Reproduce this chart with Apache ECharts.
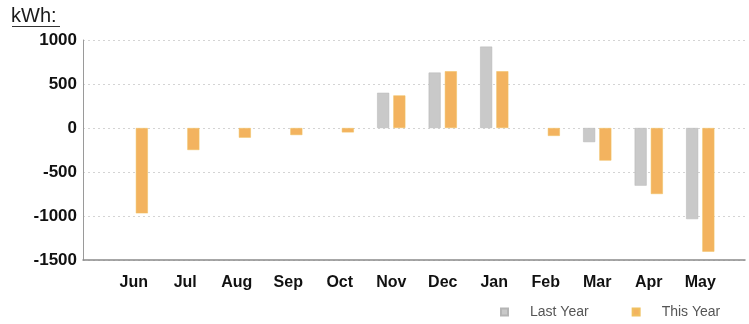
<!DOCTYPE html>
<html>
<head>
<meta charset="utf-8">
<script src="https://cdn.jsdelivr.net/npm/echarts@6/dist/echarts.min.js"></script>
<style>
  html, body { margin: 0; padding: 0; background: #ffffff; }
  #chart { width: 749px; height: 324px; }
</style>
</head>
<body>
<div id="chart"></div>
<script>
// Monthly energy difference, kWh
const months = ['Jun', 'Jul', 'Aug', 'Sep', 'Oct', 'Nov', 'Dec', 'Jan', 'Feb', 'Mar', 'Apr', 'May'];
const lastYear = [null, null, null, null, null, 400, 630, 925, null, -160, -655, -1035];
const thisYear = [-970, -250, -110, -80, -50, 370, 645, 645, -90, -370, -750, -1405];
const yTicks = { min: -1500, max: 1000, interval: 500 };

const chart = echarts.init(document.getElementById('chart'), null, { renderer: 'canvas' });

const fontFamily = 'Liberation Sans, Arial, sans-serif';

chart.setOption({
  animation: false,
  backgroundColor: '#ffffff',
  title: {
    text: 'kWh:',
    left: 11,
    top: 6,
    padding: 0,
    textStyle: { fontFamily: fontFamily, fontSize: 20, fontWeight: 'normal', color: '#1a1a1a' }
  },
  graphic: [{
    type: 'line',
    shape: { x1: 12, y1: 26.5, x2: 60, y2: 26.5 },
    style: { stroke: '#333', lineWidth: 1.2 }
  }],
  legend: {
    left: 500,
    top: 305,
    padding: 0,
    icon: 'rect',
    itemWidth: 7,
    itemHeight: 7,
    itemGap: 43,
    textStyle: { fontFamily: fontFamily, fontSize: 14, color: '#555', padding: [0, 0, 0, 17] },
    data: ['Last Year', 'This Year']
  },
  grid: [
    // frame: y axis, gridlines and baseline
    { left: 83, right: 4, top: 40, bottom: 64 },
    // bars
    { left: 108, right: 23, top: 40, bottom: 64 }
  ],
  xAxis: [
    {
      gridIndex: 0, type: 'category', data: [''],
      axisLine: { onZero: false, lineStyle: { color: '#8a8a8a', width: 1.5 } },
      axisTick: { show: false }, axisLabel: { show: false }, splitLine: { show: false }
    },
    {
      gridIndex: 1, type: 'category', data: months,
      axisLine: { show: false }, axisTick: { show: false },
      axisLabel: { margin: 15, fontFamily: fontFamily, fontWeight: 'bold', fontSize: 16, color: '#111' },
      splitLine: { show: false }
    }
  ],
  yAxis: [
    {
      gridIndex: 0, type: 'value', min: yTicks.min, max: yTicks.max, interval: yTicks.interval,
      axisLine: { show: true, lineStyle: { color: '#9a9a9a', width: 1 } },
      axisTick: { show: false },
      axisLabel: {
        margin: 6, fontFamily: fontFamily, fontWeight: 'bold', fontSize: 17, color: '#111',
        formatter: function (v) { return String(v); }
      },
      splitLine: { show: true, lineStyle: { color: '#d4d4d4', type: [2, 3], width: 1 } }
    },
    {
      gridIndex: 1, type: 'value', min: yTicks.min, max: yTicks.max, interval: yTicks.interval,
      axisLine: { show: false }, axisTick: { show: false }, axisLabel: { show: false }, splitLine: { show: false }
    }
  ],
  series: [
    {
      name: 'Last Year', type: 'bar', xAxisIndex: 1, yAxisIndex: 1,
      data: lastYear, barWidth: 12, barGap: '35%',
      itemStyle: { color: '#c9c9c9', borderColor: '#b5b5b5', borderWidth: 0.5 }
    },
    {
      name: 'This Year', type: 'bar', xAxisIndex: 1, yAxisIndex: 1,
      data: thisYear, barWidth: 12, barGap: '35%',
      itemStyle: { color: '#f3b35f', borderColor: '#f0c060', borderWidth: 0.5 }
    }
  ]
});
</script>
</body>
</html>
